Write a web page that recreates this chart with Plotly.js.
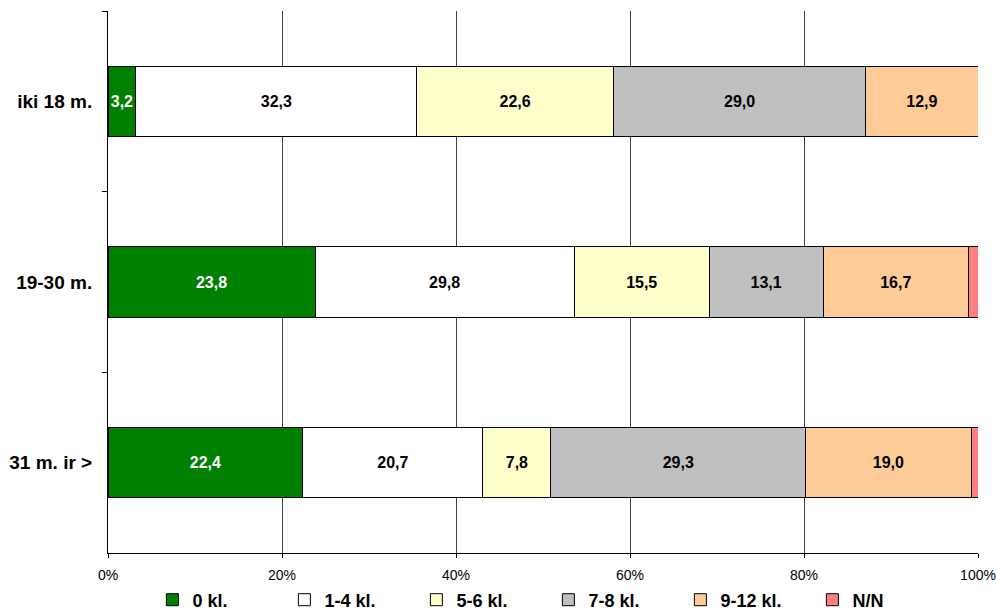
<!DOCTYPE html>
<html><head><meta charset="utf-8">
<script src="https://cdn.plot.ly/plotly-3.0.1.min.js"></script>
<style>html,body{margin:0;padding:0;background:#fff}#chart{width:996px;height:614px}</style>
</head><body><div id="chart"></div>
<script>
const categories = ["iki 18 m.", "19-30 m.", "31 m. ir >"];
const seriesNames = ["0 kl.", "1-4 kl.", "5-6 kl.", "7-8 kl.", "9-12 kl.", "N/N"];
const s0 = [3.2, 23.8, 22.4];
const s1 = [32.3, 29.8, 20.7];
const s2 = [22.6, 15.5, 7.8];
const s3 = [29.0, 13.1, 29.3];
const s4 = [12.9, 16.7, 19.0];
const s5 = [0.0, 1.1, 0.8];
const xTickVals = [0, 20, 40, 60, 80, 100];
const xTickText = ["0%", "20%", "40%", "60%", "80%", "100%"];

const colors = ["#008000", "#FFFFFF", "#FFFFCC", "#C0C0C0", "#FFCC99", "#FF8080"];
const textColors = ["#FFFFFF", "#000000", "#000000", "#000000", "#000000", "#000000"];
const allSeries = [s0, s1, s2, s3, s4, s5];
const FONT = "Arial, 'Liberation Sans', sans-serif";

const traces = allSeries.map((vals, i) => ({
  type: "bar",
  orientation: "h",
  name: seriesNames[i],
  y: categories,
  x: vals,
  marker: {color: colors[i], line: {color: "#000000", width: 1}},
  texttemplate: i === 5 ? "" : "%{x:.1f}",
  textposition: "inside",
  insidetextanchor: "middle",
  constraintext: "none",
  textangle: 0,
  textfont: {family: FONT, size: 16, color: textColors[i], weight: "bold"},
  hoverinfo: "skip",
  width: 0.39
}));

const layout = {
  width: 996, height: 614,
  margin: {l: 108, r: 18, t: 11, b: 61},
  paper_bgcolor: "#FFFFFF", plot_bgcolor: "#FFFFFF",
  barmode: "stack",
  separators: ", ",
  font: {family: FONT, color: "#000000"},
  showlegend: true,
  legend: {
    orientation: "h", xref: "container", yref: "container",
    x: 0.153, xanchor: "left", y: 1 - 600 / 614, yanchor: "middle",
    entrywidth: 87, entrywidthmode: "pixels",
    font: {family: FONT, size: 18, weight: "bold", color: "#000"},
    itemwidth: 30, traceorder: "normal", tracegroupgap: 0, borderwidth: 0,
    bgcolor: "rgba(0,0,0,0)"
  },
  xaxis: {
    range: [0, 100], tickvals: xTickVals, ticktext: xTickText,
    showgrid: true, gridcolor: "#404040", gridwidth: 1,
    zeroline: false, showline: true, linecolor: "#000", linewidth: 1,
    ticks: "outside", ticklen: 4, tickcolor: "#000",
    ticklabelstandoff: 5,
    tickfont: {family: FONT, size: 14, color: "#000"}, fixedrange: true
  },
  yaxis: {
    type: "category", autorange: false, range: [2.5, -0.5],
    tickson: "boundaries", ticks: "outside", ticklen: 5, tickcolor: "#000",
    showline: true, linecolor: "#000", linewidth: 1, showgrid: false, zeroline: false,
    tickfont: {family: FONT, size: 19, weight: "bold", color: "#000"},
    ticklabelstandoff: 11, fixedrange: true
  }
};
Plotly.newPlot("chart", traces, layout, {staticPlot: true, displayModeBar: false});
</script></body></html>
